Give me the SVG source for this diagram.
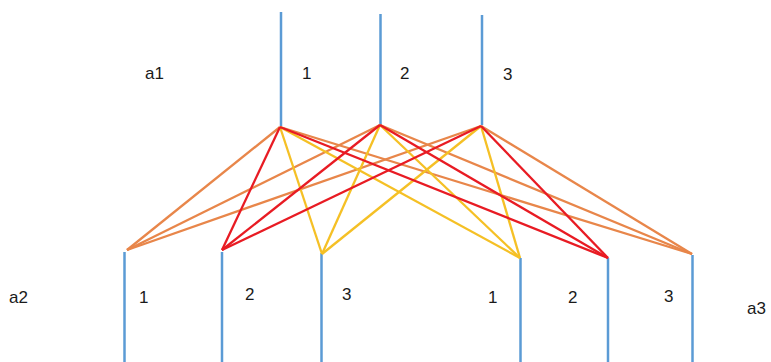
<svg xmlns="http://www.w3.org/2000/svg" width="771" height="362" viewBox="0 0 771 362">
<style>
.ax{stroke:#5B9BD5;stroke-width:2.5;fill:none}
.o{stroke:#E8864A;stroke-width:2.3;fill:none}
.r{stroke:#E81B23;stroke-width:2.3;fill:none}
.y{stroke:#F5C025;stroke-width:2.3;fill:none}
text{font-family:"Liberation Sans",Arial,sans-serif;font-size:17px;fill:#1a1a1a}
</style>
<rect width="771" height="362" fill="#fff"/>
<g id="top1"><line class="ax" x1="281" y1="12" x2="281" y2="126"/><text x="302" y="79">1</text></g>
<g id="top2"><line class="ax" x1="380.5" y1="14" x2="380.5" y2="125"/><text x="400" y="79">2</text></g>
<g id="top3"><line class="ax" x1="482" y1="15" x2="482" y2="125"/><text x="503" y="80">3</text></g>
<g id="bot1"><line class="ax" x1="124.5" y1="252" x2="124.5" y2="362"/><text x="139" y="303">1</text></g>
<g id="bot2"><line class="ax" x1="222" y1="252" x2="222" y2="362"/><text x="245" y="300">2</text></g>
<g id="bot3"><line class="ax" x1="321.5" y1="253" x2="321.5" y2="362"/><text x="342" y="300">3</text></g>
<g id="bot4"><line class="ax" x1="520.5" y1="258" x2="520.5" y2="362"/><text x="488" y="303">1</text></g>
<g id="bot5"><line class="ax" x1="608" y1="258" x2="608" y2="362"/><text x="568" y="303">2</text></g>
<g id="bot6"><line class="ax" x1="692.5" y1="255" x2="692.5" y2="362"/><text x="664" y="302">3</text></g>
<g id="labels">
<text x="145" y="79">a1</text>
<text x="9" y="303">a2</text>
<text x="747" y="314">a3</text>
</g>
<g id="connectors">
<g class="o-set">
<line class="o" x1="280" y1="127" x2="127" y2="250"/>
<line class="o" x1="380" y1="125" x2="127" y2="250"/>
<line class="o" x1="481" y1="126" x2="127" y2="250"/>
<line class="o" x1="280" y1="127" x2="692" y2="254"/>
<line class="o" x1="380" y1="125" x2="692" y2="254"/>
<line class="o" x1="481" y1="126" x2="692" y2="254"/>
</g>
<g class="y-set">
<line class="y" x1="280" y1="127" x2="322" y2="254"/>
<line class="y" x1="380" y1="125" x2="322" y2="254"/>
<line class="y" x1="481" y1="126" x2="322" y2="254"/>
<line class="y" x1="280" y1="127" x2="520" y2="258"/>
<line class="y" x1="380" y1="125" x2="520" y2="258"/>
<line class="y" x1="481" y1="126" x2="520" y2="258"/>
</g>
<g class="r-set">
<line class="r" x1="280" y1="127" x2="222" y2="250"/>
<line class="r" x1="380" y1="125" x2="222" y2="250"/>
<line class="r" x1="481" y1="126" x2="222" y2="250"/>
<line class="r" x1="280" y1="127" x2="608" y2="258"/>
<line class="r" x1="380" y1="125" x2="608" y2="258"/>
<line class="r" x1="481" y1="126" x2="608" y2="258"/>
</g>
</g>
</svg>
